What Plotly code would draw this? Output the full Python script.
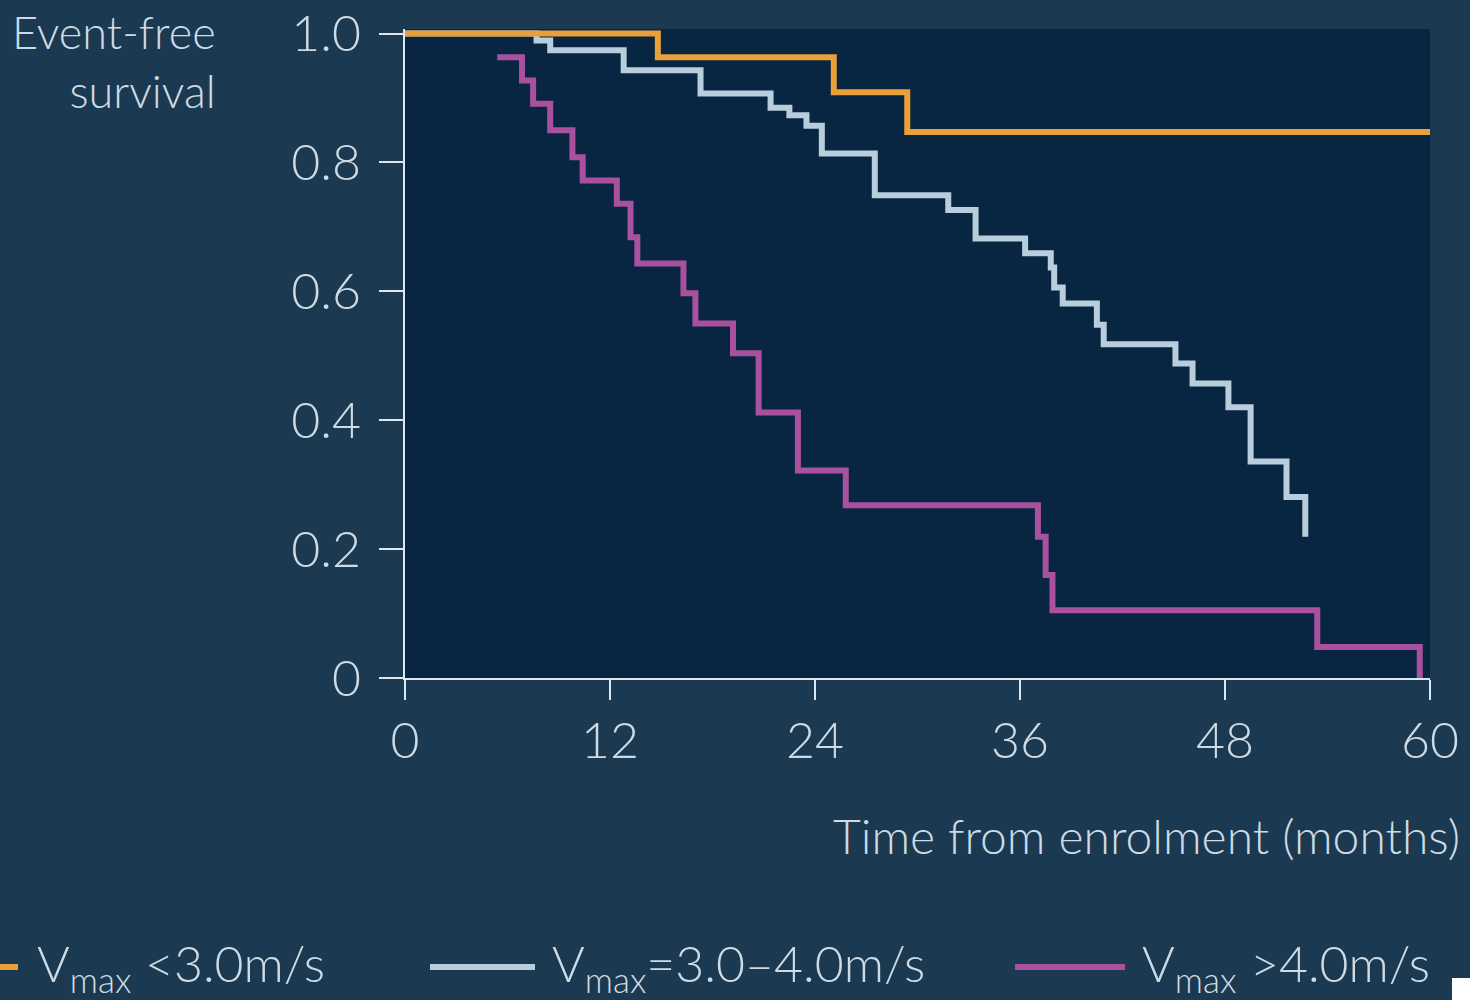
import plotly.graph_objects as go

# ---- data ----
low_t = [0, 14.8, 25.1, 29.4, 60]
low_s = [1.0, 0.963, 0.909, 0.847, 0.847]

mid_t = [0, 7.7, 8.5, 12.8, 17.3, 21.4, 22.5, 23.5, 24.4, 27.5, 31.8, 33.4,
         36.3, 37.8, 38.0, 38.5, 40.5, 40.9, 45.1, 46.1, 48.2, 49.5, 51.6, 52.7]
mid_s = [1.0, 0.989, 0.974, 0.943, 0.907, 0.885, 0.873, 0.857, 0.814, 0.749, 0.726, 0.682,
         0.659, 0.637, 0.606, 0.581, 0.548, 0.518, 0.488, 0.457, 0.420, 0.336, 0.281, 0.219]

high_t = [5.4, 6.85, 7.5, 8.5, 9.8, 10.4, 12.4, 13.2, 13.6, 16.3, 17.0, 19.2,
          20.7, 23.0, 25.8, 37.05, 37.5, 37.9, 53.4, 59.4]
high_s = [0.963, 0.927, 0.891, 0.850, 0.808, 0.772, 0.736, 0.684, 0.643, 0.597, 0.550, 0.504,
          0.412, 0.322, 0.268, 0.219, 0.160, 0.105, 0.048, 0.0]

x_ticks = [0, 12, 24, 36, 48, 60]
y_ticks = [0, 0.2, 0.4, 0.6, 0.8, 1.0]
y_tick_labels = ["0", "0.2", "0.4", "0.6", "0.8", "1.0"]

series_names = ["V<sub>max</sub> &lt;3.0m/s", "V<sub>max</sub>=3.0–4.0m/s", "V<sub>max</sub> &gt;4.0m/s"]
series_colors = ["#e9a03a", "#b9cedd", "#a9519f"]

OUTER = "#1b3a51"
INNER = "#082641"
TXT = "#cfdbe4"
AXIS = "#dbe6ee"
FONT = "Lato"

fig = go.Figure()
fig.add_trace(go.Scatter(x=mid_t, y=mid_s, mode="lines", line=dict(shape="hv", color=series_colors[1], width=6),
                         name=series_names[1], showlegend=False))
fig.add_trace(go.Scatter(x=high_t, y=high_s, mode="lines", line=dict(shape="hv", color=series_colors[2], width=6),
                         name=series_names[2], showlegend=False))
fig.add_trace(go.Scatter(x=low_t, y=low_s, mode="lines", line=dict(shape="hv", color=series_colors[0], width=6),
                         name=series_names[0], showlegend=False))

L, R, T, B = 405, 40, 29, 322
W, H = 1470, 1000
pw = W - L - R
ph = H - T - B


def px_x(p):
    return (p - L) / pw


def px_y(p):
    return (H - B - p) / ph


fig.update_layout(
    template="none",
    width=W, height=H,
    margin=dict(l=L, r=R, t=T, b=B, autoexpand=False),
    paper_bgcolor=OUTER, plot_bgcolor=INNER,
    font=dict(family=FONT, color=TXT, size=50),
    xaxis=dict(range=[0, 60], tickvals=x_ticks, ticks="outside", ticklen=20, tickwidth=2,
               tickcolor=AXIS, showline=True, linecolor=AXIS, linewidth=2, showgrid=False,
               zeroline=False, automargin=False,
               tickfont=dict(size=50, color=TXT, family=FONT, weight=300),
               ticklabelstandoff=-2),
    yaxis=dict(range=[0, 1.007], tickvals=y_ticks, ticktext=y_tick_labels, ticks="outside",
               ticklen=24, tickwidth=2, tickcolor=AXIS, showline=True, linecolor=AXIS,
               linewidth=2, showgrid=False, zeroline=False, automargin=False,
               tickfont=dict(size=50, color=TXT, family=FONT, weight=300), ticklabelstandoff=8),
    showlegend=False,
)

# axis titles
fig.add_annotation(x=px_x(218), y=px_y(62), xref="paper", yref="paper", xanchor="right", yanchor="middle",
                   text="Event-free<br>survival", align="right", showarrow=False,
                   font=dict(size=45, color=TXT, family=FONT, weight=300))
fig.add_annotation(x=px_x(1462), y=px_y(835), xref="paper", yref="paper", xanchor="right", yanchor="middle",
                   text="Time from enrolment (months)", showarrow=False,
                   font=dict(size=48, color=TXT, family=FONT, weight=300))

# legend (drawn manually)
leg_y = px_y(967)
leg_lines = [(-10, 18), (430, 535), (1015, 1125)]
leg_text_x = [35, 550, 1140]
for i in range(3):
    x0, x1 = leg_lines[i]
    fig.add_shape(type="line", xref="paper", yref="paper", x0=px_x(x0), x1=px_x(x1), y0=leg_y, y1=leg_y,
                  line=dict(color=series_colors[i], width=6))
    fig.add_annotation(x=px_x(leg_text_x[i]), y=px_y(966), xref="paper", yref="paper", xanchor="left",
                       yanchor="middle", text=series_names[i], showarrow=False,
                       font=dict(size=50, color=TXT, family=FONT, weight=300))

# small white patch at bottom-right corner as in the reference
fig.add_shape(type="rect", xref="paper", yref="paper", x0=px_x(1452), x1=px_x(1472), y0=px_y(1002), y1=px_y(978),
              fillcolor="white", line=dict(width=0))

fig.write_html("out.html", config={"displayModeBar": False},
               post_script="document.body.style.margin='0';document.body.style.overflow='hidden';")
